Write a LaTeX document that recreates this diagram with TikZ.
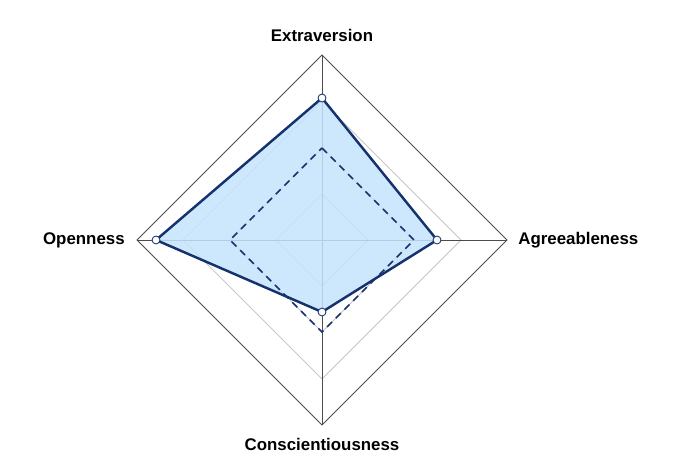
\documentclass[tikz,border=0pt]{standalone}
\usepackage{fontspec}
\setmainfont{Liberation Sans}
\usetikzlibrary{positioning}
\definecolor{navy}{RGB}{22,50,110}
\definecolor{fillblue}{RGB}{196,228,252}
\tikzset{
    grid/.style={draw=gray!45, line width=0.5pt},
    axis/.style={draw=black!70, line width=0.5pt},
    series/.style={draw=navy, line width=1.4pt, line join=round},
    dashseries/.style={draw=navy, line width=0.9pt, dash pattern=on 4pt off 3pt},
    dot/.style={circle, draw=navy, fill=white, inner sep=0pt, minimum size=4.5pt, line width=0.5pt},
    axlabel/.style={font=\bfseries\fontsize{9.6}{12}\selectfont, inner sep=0pt},
}
\begin{document}
\begin{tikzpicture}[x=0.02cm, y=-0.02cm]
    \useasboundingbox (0,0) rectangle (690,466);
    \coordinate (c) at (322,240);
    % grid rings
    \foreach \r/\s in {46/grid, 92/grid, 139/grid, 185/axis}
        \draw[\s] (322,240-\r) -- (322+\r,240) -- (322,240+\r) -- (322-\r,240) -- cycle;
    \draw[axis] (322,55) -- (322,425);
    \draw[axis] (137,240) -- (507,240);
    % data
    \coordinate (e) at (322,98);
    \coordinate (a) at (437,240);
    \coordinate (k) at (322,312);
    \coordinate (o) at (156,240);
    \fill[fillblue, opacity=0.85] (e) -- (a) -- (k) -- (o) -- cycle;
    \draw[dashseries] (322,148) -- (414,240) -- (322,332) -- (230,240) -- cycle;
    \draw[series] (e) -- (a) -- (k) -- (o) -- cycle;
    \foreach \p in {e,a,k,o}
        \node[dot] at (\p) {};
    % labels
    \node[axlabel] (lE) at (322,35) {Extraversion};
    \node[axlabel, anchor=west] (lA) at (518,240) {Agreeableness};
    \node[axlabel] (lC) at (322,444) {Conscientiousness};
    \node[axlabel, anchor=east] (lO) at (125,240) {Openness};
\end{tikzpicture}
\end{document}
